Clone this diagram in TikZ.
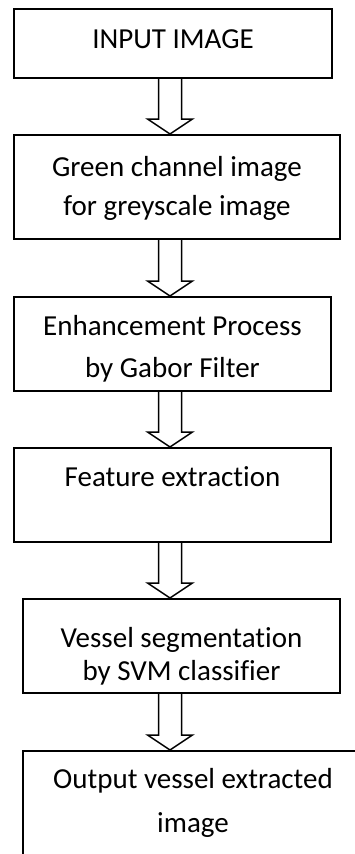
\documentclass[tikz,border=0pt]{standalone}
\usepackage{fontspec}
\setmainfont{Carlito}[Ligatures=NoCommon]
\usetikzlibrary{calc}

\tikzset{
  box/.style={draw=black, line width=2pt, rectangle, inner sep=0pt},
  txt/.style={anchor=base, inner sep=0pt, font=\fontsize{29}{35}\selectfont},
  hollow/.style={draw=black, line width=1.5pt, line join=miter}
}

\begin{document}
\begin{tikzpicture}[x=1pt, y=-1pt]
\useasboundingbox (0,0) rectangle (355,854);
\clip (0,0) rectangle (355,854);
% Boxes
\node[box, minimum width=318pt, minimum height=69pt] (input) at (173,43.5) {};
\node[box, minimum width=326pt, minimum height=104pt] (green) at (177,187) {};
\node[box, minimum width=317pt, minimum height=94pt] (gabor) at (172.5,344) {};
\node[box, minimum width=317pt, minimum height=94pt] (feat) at (172.5,495) {};
\node[box, minimum width=317pt, minimum height=94pt] (svm) at (181.5,646) {};
\node[box, minimum width=340pt, minimum height=140pt] (out) at (193,821) {};
% Text
\node[txt] (inputA) at (173,48) {INPUT IMAGE};
\node[txt] (greenA) at (177,176) {Green channel image};
\node[txt] (greenB) at (177,215) {for greyscale image};
\node[txt] (gaborA) at (172.5,335) {Enhancement Process};
\node[txt] (gaborB) at (172.5,377) {by Gabor Filter};
\node[txt] (featA) at (172.5,486) {Feature extraction};
\node[txt] (svmA) at (181.5,647) {Vessel segmentation};
\node[txt] (svmB) at (181.5,680) {by SVM classifier};
\node[txt] (outA) at (193,788) {Output vessel extracted};
\node[txt] (outB) at (193,832) {image};
% Arrows
\coordinate (ax) at (170,0);
\foreach \a/\b in {input/green, green/gabor, gabor/feat, feat/svm, svm/out} {
  \coordinate (s) at (\a.south -| ax);
  \coordinate (t) at (\b.north -| ax);
  \draw[hollow] ($(s)+(-11.5,0)$) -- ($(t)+(-11.5,-15)$) -- ($(t)+(-22.5,-15)$)
    -- (t) -- ($(t)+(22.5,-15)$) -- ($(t)+(11.5,-15)$) -- ($(s)+(11.5,0)$);
}
\end{tikzpicture}
\end{document}
